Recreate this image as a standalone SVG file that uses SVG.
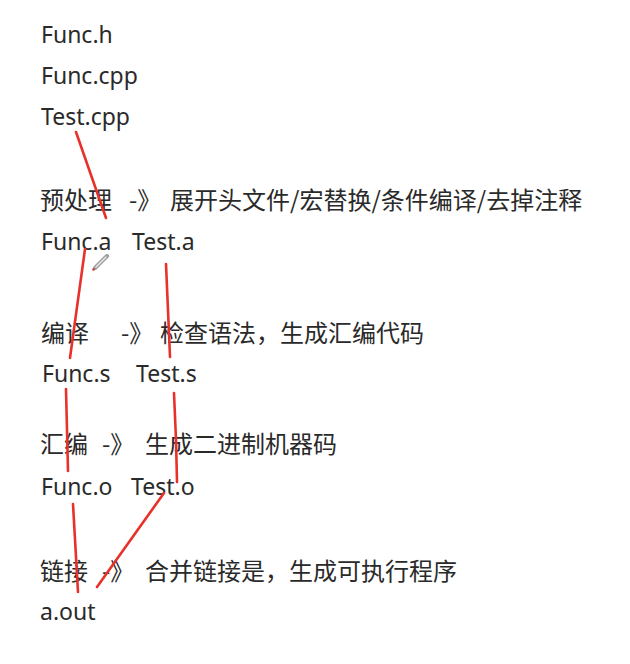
<svg xmlns="http://www.w3.org/2000/svg" width="630" height="664" viewBox="0 0 630 664">
<style>
.t{font-family:"Noto Sans","Noto Sans CJK SC",sans-serif;font-size:23px;fill:#2a2a2a}
.c{font-family:"Noto Sans CJK SC","Noto Sans",sans-serif;font-size:24px;fill:#2a2a2a}
.r{stroke:#e8312a;stroke-width:2.6;fill:none;stroke-linecap:round}
</style>
<rect width="630" height="664" fill="#ffffff"/>
<g id="files">
<text class="t" x="41" y="43">Func.h</text>
<text class="t" x="41" y="84">Func.cpp</text>
<text class="t" x="41" y="125">Test.cpp</text>
</g>
<g id="preprocess">
<text class="c" y="209"><tspan x="40">预处理</tspan><tspan x="129">-》</tspan><tspan x="170">展开头文件/宏替换/条件编译/去掉注释</tspan></text>
</g>
<g id="a-files">
<text class="t" x="41" y="250">Func.a</text>
<text class="t" x="132" y="250">Test.a</text>
</g>
<g id="compile">
<text class="c" y="342"><tspan x="41">编译</tspan><tspan x="121">-》</tspan><tspan x="160">检查语法，生成汇编代码</tspan></text>
</g>
<g id="s-files">
<text class="t" x="42" y="382">Func.s</text>
<text class="t" x="136" y="382">Test.s</text>
</g>
<g id="assemble">
<text class="c" y="453"><tspan x="40">汇编</tspan><tspan x="102">-》</tspan><tspan x="145">生成二进制机器码</tspan></text>
</g>
<g id="o-files">
<text class="t" x="41" y="495">Func.o</text>
<text class="t" x="131" y="495">Test.o</text>
</g>
<g id="link">
<text class="c" y="580"><tspan x="40">链接</tspan><tspan x="102">-》</tspan><tspan x="145">合并链接是，生成可执行程序</tspan></text>
</g>
<g id="output">
<text class="t" x="40" y="620">a.out</text>
</g>
<g id="connectors">
<path class="r" d="M76 132 L106 218"/>
<path class="r" d="M85 249 L70 358"/>
<path class="r" d="M166 264 L170 357"/>
<path class="r" d="M66 389 L68 471"/>
<path class="r" d="M174 393 L176 440 L177 482"/>
<path class="r" d="M73 504 L78 592"/>
<path class="r" d="M164 493 L97 587"/>
</g>
<g id="cursor">
<path d="M95 268 L107 256" stroke="#9a9a9a" stroke-width="4" stroke-linecap="round"/>
<path d="M96 267 L106 257" stroke="#e6e6e6" stroke-width="1.6" stroke-linecap="round"/>
<circle cx="93.5" cy="269.5" r="1.3" fill="#d23a3a"/>
</g>
</svg>
